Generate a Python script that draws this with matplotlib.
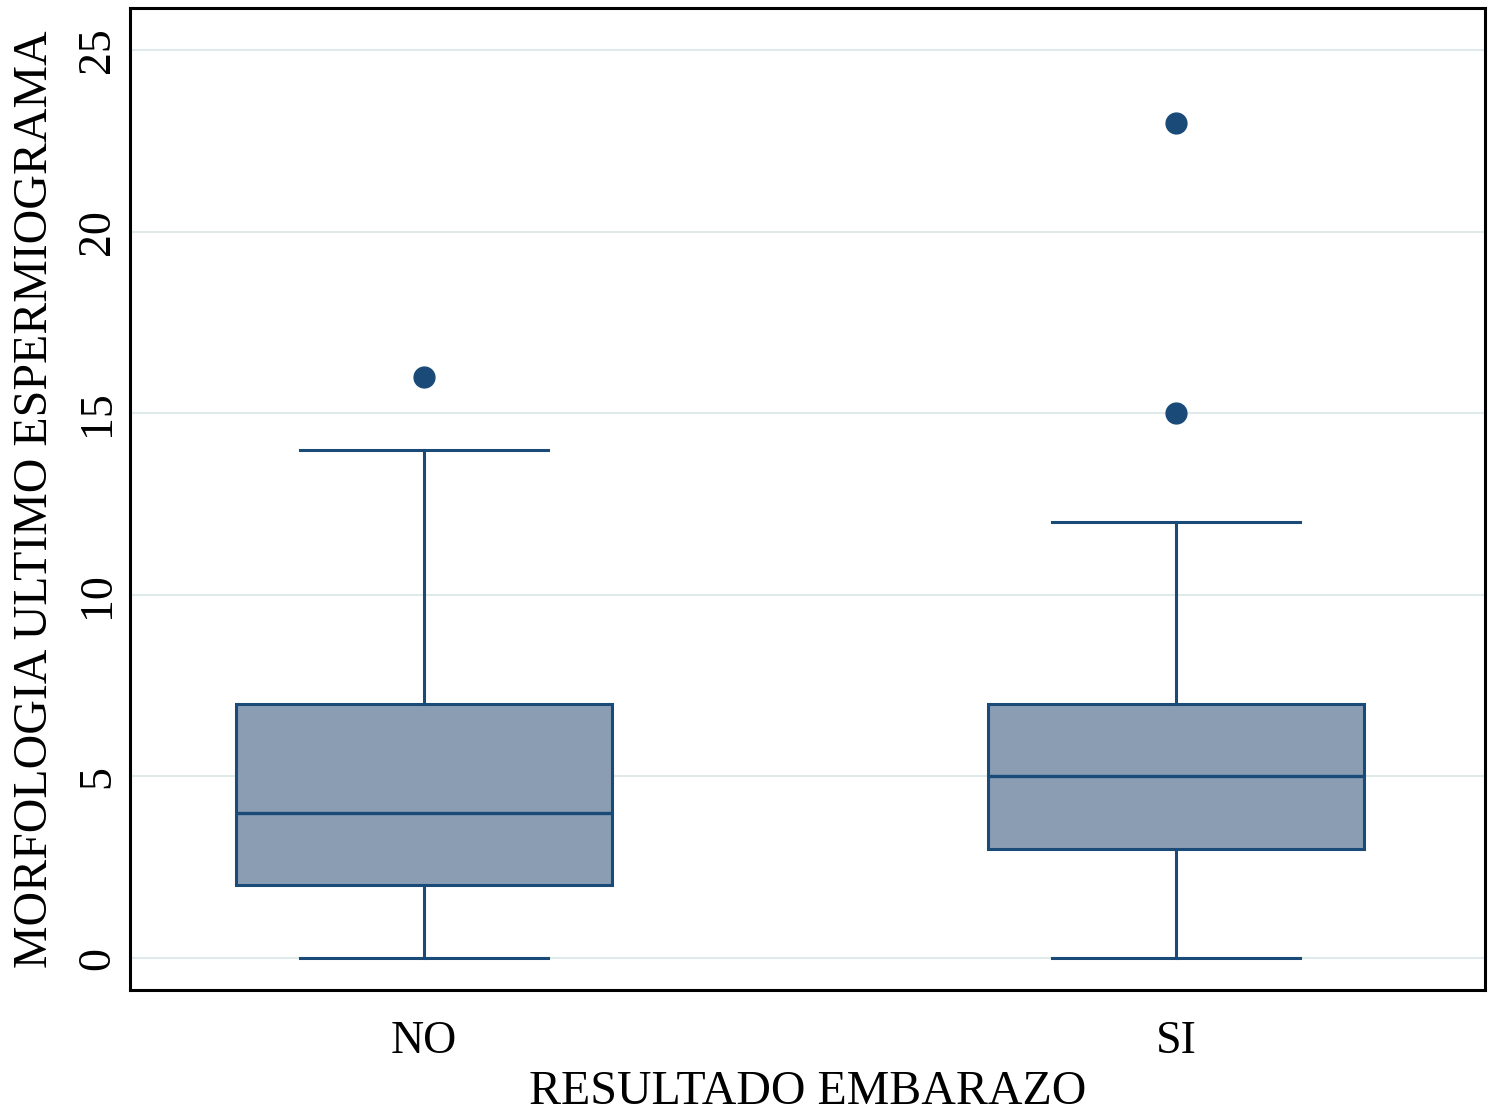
import matplotlib.pyplot as plt

# Summary statistics
groups = ['NO', 'SI']
whislo = [0, 0]
q1 = [2, 3]
medians = [4, 5]
q3 = [7, 7]
whishi = [14, 12]
outliers = [[16], [15, 23]]

plt.rcParams['font.family'] = ['Liberation Serif', 'DejaVu Serif']

edge = '#1a4a78'
fill = '#8a9db3'

stats = []
for i, g in enumerate(groups):
    stats.append({'label': g, 'whislo': whislo[i], 'q1': q1[i], 'med': medians[i],
                  'q3': q3[i], 'whishi': whishi[i], 'fliers': outliers[i]})

fig = plt.figure(figsize=(15, 11.13), dpi=100)
ax = fig.add_axes([130 / 1500, 1 - 990 / 1113, 1355 / 1500, 982 / 1113])

ax.bxp(stats, positions=[1, 2], widths=0.5, capwidths=0.33, patch_artist=True,
       boxprops=dict(facecolor=fill, edgecolor=edge, linewidth=2.2),
       medianprops=dict(color=edge, linewidth=2.4),
       whiskerprops=dict(color=edge, linewidth=2.2),
       capprops=dict(color=edge, linewidth=2.2),
       flierprops=dict(marker='o', markerfacecolor=edge, markeredgecolor=edge,
                       markersize=15))

ax.set_xlim(0.609, 2.411)
ax.set_ylim(-0.88, 26.16)
ax.set_yticks([0, 5, 10, 15, 20, 25])
ax.set_yticklabels(['0', '5', '10', '15', '20', '25'], rotation=90, va='center')
ax.yaxis.grid(True, color='#e1eaeb', linewidth=1.5)
ax.set_axisbelow(True)
ax.tick_params(axis='both', length=0, labelsize=33)
ax.tick_params(axis='y', pad=8)
ax.tick_params(axis='x', pad=22)

for s in ax.spines.values():
    s.set_linewidth(2.2)
    s.set_color('black')

ax.set_xlabel('RESULTADO EMBARAZO', fontsize=34.5, labelpad=5)
ax.set_ylabel('MORFOLOGIA ULTIMO ESPERMIOGRAMA', fontsize=34.5, labelpad=14)

fig.savefig('out.png', dpi=100)
